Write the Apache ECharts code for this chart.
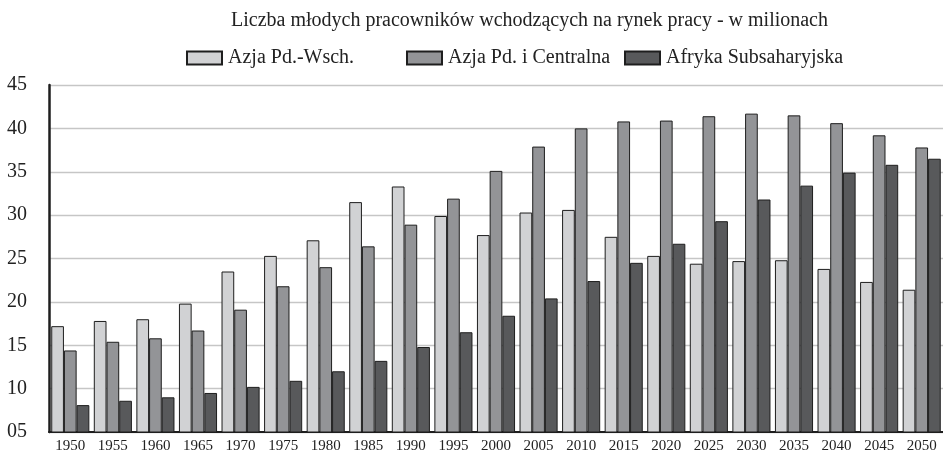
<!DOCTYPE html>
<html>
<head>
<meta charset="utf-8">
<script src="https://cdn.jsdelivr.net/npm/echarts@6/dist/echarts.min.js"></script>
<style>
  html, body { margin: 0; padding: 0; background: #fff; }
  #chart { width: 943px; height: 454px; }
</style>
</head>
<body>
<div id="chart"></div>
<script>
const years = ["1950", "1955", "1960", "1965", "1970", "1975", "1980", "1985", "1990", "1995", "2000",
  "2005", "2010", "2015", "2020", "2025", "2030", "2035", "2040", "2045", "2050"];
const seriesNames = ["Azja Pd.-Wsch.", "Azja Pd. i Centralna", "Afryka Subsaharyjska"];
const azjaPdWsch = [17.2, 17.8, 18.0, 19.8, 23.5, 25.3, 27.1, 31.5, 33.3, 29.9, 27.7,
  30.3, 30.6, 27.5, 25.3, 24.4, 24.7, 24.8, 23.8, 22.3, 21.4];
const azjaPdCentr = [14.4, 15.4, 15.8, 16.7, 19.1, 21.8, 24.0, 26.4, 28.9, 31.9, 35.1,
  37.9, 40.0, 40.8, 40.9, 41.4, 41.7, 41.5, 40.6, 39.2, 37.8];
const afryka = [8.1, 8.6, 9.0, 9.5, 10.2, 10.9, 12.0, 13.2, 14.8, 16.5, 18.4,
  20.4, 22.4, 24.5, 26.7, 29.3, 31.8, 33.4, 34.9, 35.8, 36.5];
const colors = ["#d1d2d4", "#939497", "#58595b"];

const font = "'Liberation Serif', 'DejaVu Serif', serif";
const myChart = echarts.init(document.getElementById("chart"));

const makeBar = (name, data, color) => ({
  name: name,
  type: "bar",
  data: data,
  barWidth: 12.7,
  barGap: "0%",
  itemStyle: {
    color: color,
    borderColor: "#1e1e1e",
    borderWidth: 1,
  },
});

const legendAt = (name, left) => ({
  data: [name],
  left: left,
  top: 43,
  icon: "rect",
  itemWidth: 35,
  itemHeight: 13,
  textStyle: { fontFamily: font, fontSize: 20, color: "#222", padding: [0, 0, 0, 1] },
});

const option = {
  animation: false,
  title: {
    text: "Liczba młodych pracowników wchodzących na rynek pracy - w milionach",
    left: 226,
    top: 6,
    textStyle: { fontFamily: font, fontSize: 20, fontWeight: "normal", color: "#222" },
  },
  legend: [
    legendAt(seriesNames[0], 181),
    legendAt(seriesNames[1], 401),
    legendAt(seriesNames[2], 619),
  ],
  grid: {
    left: 49,
    top: 85,
    width: 897,
    height: 349.5,
  },
  xAxis: {
    type: "category",
    data: years,
    axisLine: { lineStyle: { color: "#1e1e1e", width: 2 } },
    axisTick: { show: false },
    axisLabel: { fontFamily: font, fontSize: 15, color: "#222", margin: 7 },
  },
  yAxis: {
    type: "value",
    min: 5,
    max: 45,
    interval: 5,
    axisLine: { show: true, lineStyle: { color: "#1e1e1e", width: 2.5 } },
    axisTick: { show: false },
    splitLine: { lineStyle: { color: "#c6c6c6", width: 1.3 } },
    axisLabel: {
      fontFamily: font,
      fontSize: 20,
      color: "#222",
      margin: 22,
      formatter: (v) => (v < 10 ? "0" + v : String(v)),
    },
  },
  series: [
    makeBar(seriesNames[0], azjaPdWsch, colors[0]),
    makeBar(seriesNames[1], azjaPdCentr, colors[1]),
    makeBar(seriesNames[2], afryka, colors[2]),
  ],
};
myChart.setOption(option);
</script>
</body>
</html>
